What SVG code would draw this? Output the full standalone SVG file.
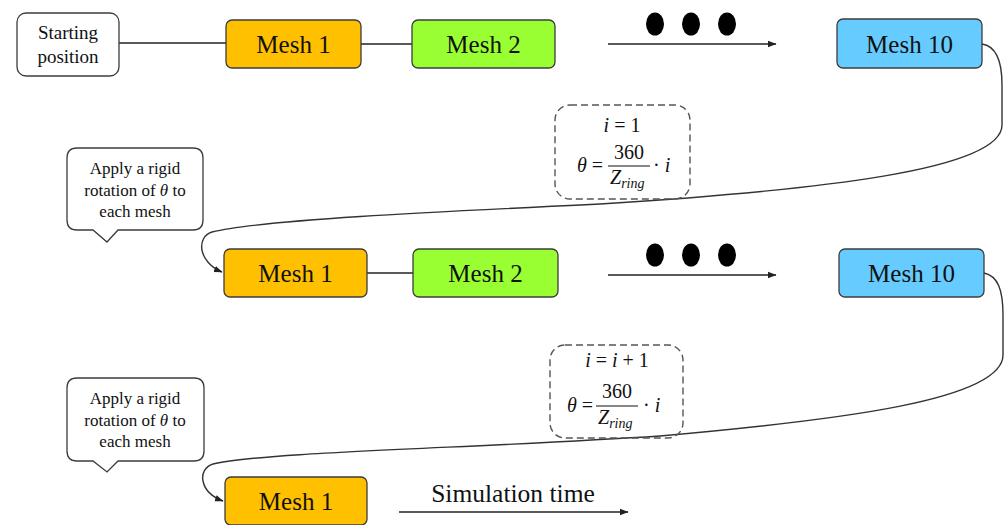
<svg xmlns="http://www.w3.org/2000/svg" width="1005" height="525" viewBox="0 0 1005 525">
  <style>
    .box { stroke: #3c3c3c; stroke-width: 1.3; }
    .m1 { fill: #FFC000; }
    .m2 { fill: #99FF33; }
    .m10 { fill: #66CCFF; }
    .plain { fill: #ffffff; stroke: #3c3c3c; stroke-width: 1.3; }
    .dash { fill: none; stroke: #555; stroke-width: 1.4; stroke-dasharray: 7 4; }
    .lbl { font-family: "Liberation Serif", "Times New Roman", serif; fill: #111; text-anchor: middle; }
    .mesh { font-size: 25px; }
    .note { font-size: 17px; }
    .math { font-family: "Liberation Serif", "Times New Roman", serif; font-size: 20px; fill: #111; }
    .it { font-style: italic; }
    .wire { fill: none; stroke: #222; stroke-width: 1.5; }
    .flow { fill: none; stroke: #333; stroke-width: 1.4; }
  </style>
  <defs>
    <marker id="tip" markerWidth="9" markerHeight="8" refX="8" refY="4" orient="auto" markerUnits="userSpaceOnUse">
      <path d="M0,0.8 L8.5,4 L0,7.2 Z" fill="#222"/>
    </marker>
  </defs>

  <rect width="1005" height="525" fill="#ffffff"/>

  <!-- connectors -->
  <g id="connectors">
    <line class="wire" x1="119" y1="43" x2="226" y2="43"/>
    <line class="wire" x1="361" y1="44" x2="412" y2="44"/>
    <line class="wire" x1="608" y1="44" x2="776" y2="44" marker-end="url(#tip)"/>
    <line class="wire" x1="367" y1="273" x2="413" y2="273"/>
    <line class="wire" x1="608" y1="275" x2="776" y2="275" marker-end="url(#tip)"/>
    <line class="wire" x1="399" y1="512" x2="628" y2="512" marker-end="url(#tip)"/>
    <!-- loop back from the last mesh of each pass to the first mesh of the next -->
    <path class="flow" d="M982,44 C996,46 1002,60 1002,85 L1002,125 C1002,170 820,190 600,204 C430,212 260,220 212,232 C196,237 198,262 222,272" marker-end="url(#tip)"/>
    <path class="flow" d="M984,273 C998,276 1003,290 1003,315 L1003,355 C1003,400 840,420 660,436 C480,448 260,452 213,464 C197,469 199,492 223,501" marker-end="url(#tip)"/>
  </g>

  <!-- first pass -->
  <g id="start">
    <rect class="plain" x="17" y="13" width="102" height="63" rx="9"/>
    <text class="lbl" x="68" y="39" font-size="19">Starting</text>
    <text class="lbl" x="68" y="63" font-size="19">position</text>
  </g>
  <g id="mesh1-a">
    <rect class="box m1" x="226" y="20" width="135" height="48" rx="6"/>
    <text class="lbl mesh" x="293.5" y="53">Mesh 1</text>
  </g>
  <g id="mesh2-a">
    <rect class="box m2" x="412" y="20" width="143" height="48" rx="6"/>
    <text class="lbl mesh" x="483.5" y="53">Mesh 2</text>
  </g>
  <g id="dots-a" fill="#000">
    <ellipse cx="655" cy="24" rx="9" ry="11.5"/>
    <ellipse cx="691" cy="24" rx="9" ry="11.5"/>
    <ellipse cx="727" cy="24" rx="9" ry="11.5"/>
  </g>
  <g id="mesh10-a">
    <rect class="box m10" x="837" y="19" width="145" height="49" rx="6"/>
    <text class="lbl mesh" x="909.5" y="53">Mesh 10</text>
  </g>

  <!-- first rotation step -->
  <g id="step-a">
    <rect class="dash" x="555" y="105" width="135" height="94" rx="15"/>
    <text class="math" x="622" y="132" text-anchor="middle"><tspan class="it">i</tspan> = 1</text>
    <text class="math" x="577" y="172"><tspan class="it">θ</tspan> =</text>
    <text class="math" x="629" y="159" text-anchor="middle">360</text>
    <line x1="608" y1="166" x2="650" y2="166" stroke="#111" stroke-width="1.2"/>
    <text class="math" x="610" y="184"><tspan class="it">Z</tspan><tspan class="it" font-size="14" dy="4">ring</tspan></text>
    <text class="math" x="653" y="172">· <tspan class="it">i</tspan></text>
  </g>
  <g id="note-a">
    <path class="plain" d="M77,148 H193 Q203,148 203,158 V220 Q203,230 193,230 H118 L107,242 L93,230 H77 Q67,230 67,220 V158 Q67,148 77,148 Z"/>
    <text class="lbl note" x="135" y="174">Apply a rigid</text>
    <text class="lbl note" x="135" y="196">rotation of <tspan class="it">θ</tspan> to</text>
    <text class="lbl note" x="135" y="217">each mesh</text>
  </g>

  <!-- second pass -->
  <g id="mesh1-b">
    <rect class="box m1" x="224" y="249" width="143" height="48" rx="6"/>
    <text class="lbl mesh" x="295.5" y="282">Mesh 1</text>
  </g>
  <g id="mesh2-b">
    <rect class="box m2" x="413" y="249" width="145" height="48" rx="6"/>
    <text class="lbl mesh" x="485.5" y="282">Mesh 2</text>
  </g>
  <g id="dots-b" fill="#000">
    <ellipse cx="655" cy="255" rx="9" ry="11.5"/>
    <ellipse cx="691" cy="255" rx="9" ry="11.5"/>
    <ellipse cx="727" cy="255" rx="9" ry="11.5"/>
  </g>
  <g id="mesh10-b">
    <rect class="box m10" x="839" y="249" width="145" height="48" rx="6"/>
    <text class="lbl mesh" x="911.5" y="282">Mesh 10</text>
  </g>

  <!-- next rotation step -->
  <g id="step-b">
    <rect class="dash" x="550" y="345" width="133" height="93" rx="15"/>
    <text class="math" x="617" y="367" text-anchor="middle"><tspan class="it">i</tspan> = <tspan class="it">i</tspan> + 1</text>
    <text class="math" x="567" y="412"><tspan class="it">θ</tspan> =</text>
    <text class="math" x="617" y="398" text-anchor="middle">360</text>
    <line x1="596" y1="406" x2="638" y2="406" stroke="#111" stroke-width="1.2"/>
    <text class="math" x="598" y="424"><tspan class="it">Z</tspan><tspan class="it" font-size="14" dy="4">ring</tspan></text>
    <text class="math" x="643" y="412">· <tspan class="it">i</tspan></text>
  </g>
  <g id="note-b">
    <path class="plain" d="M77,378 H194 Q204,378 204,388 V451 Q204,461 194,461 H118 L107,472 L93,461 H77 Q67,461 67,451 V388 Q67,378 77,378 Z"/>
    <text class="lbl note" x="135" y="404">Apply a rigid</text>
    <text class="lbl note" x="135" y="426">rotation of <tspan class="it">θ</tspan> to</text>
    <text class="lbl note" x="135" y="447">each mesh</text>
  </g>

  <!-- third pass -->
  <g id="mesh1-c">
    <rect class="box m1" x="225" y="477" width="142" height="48" rx="6"/>
    <text class="lbl mesh" x="296" y="510">Mesh 1</text>
  </g>
  <g id="sim-time">
    <text class="lbl" x="513" y="502" font-size="25.5">Simulation time</text>
  </g>
</svg>
